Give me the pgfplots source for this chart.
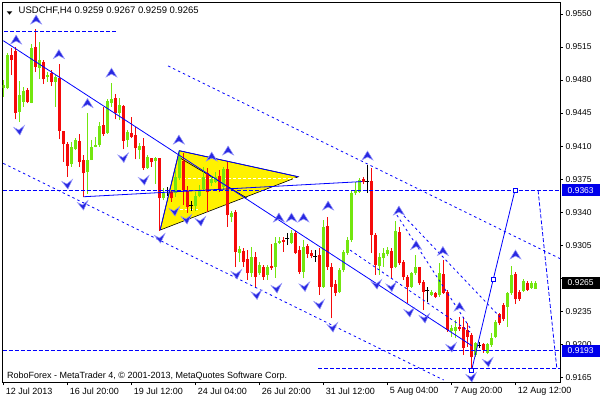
\documentclass[border=0pt]{standalone}
\usepackage{fontspec}
\setmainfont{Liberation Sans}
\usepackage{pgfplots}
\usepackage{pgfplotstable}
\pgfplotsset{compat=1.18}
\definecolor{cg}{RGB}{115,230,15}
\definecolor{cr}{RGB}{245,10,10}
\definecolor{lb}{RGB}{0,0,255}
\definecolor{arf}{RGB}{40,40,225}
\definecolor{ard}{RGB}{150,150,250}
\definecolor{boxblue}{RGB}{0,0,235}

\pgfdeclareplotmark{uparr}{%
  \pgfpathmoveto{\pgfqpoint{0pt}{5pt}}%
  \pgfpathlineto{\pgfqpoint{5.5pt}{-4pt}}%
  \pgfpathlineto{\pgfqpoint{0pt}{-1pt}}%
  \pgfpathlineto{\pgfqpoint{-5.5pt}{-4pt}}%
  \pgfpathclose
  \pgfusepathqfillstroke}
\pgfdeclareplotmark{dnarr}{%
  \pgfpathmoveto{\pgfqpoint{1pt}{-5pt}}%
  \pgfpathlineto{\pgfqpoint{-5pt}{2.5pt}}%
  \pgfpathlineto{\pgfqpoint{0pt}{0pt}}%
  \pgfpathlineto{\pgfqpoint{5.5pt}{4.5pt}}%
  \pgfpathclose
  \pgfusepathqfillstroke}

\pgfplotsset{
  wick/.style={color=#1, draw=none, mark=none, forget plot, error bars/.cd, y dir=plus, y explicit, error mark=none, error mark options={draw=none,fill=none}, error bar style={line width=1pt,draw=#1}},
  body/.style={color=#1, draw=none, mark=none, forget plot, error bars/.cd, y dir=plus, y explicit, error mark=none, error mark options={draw=none,fill=none}, error bar style={line width=3pt,draw=#1}},
}

\pgfplotstableread{
i o h l c
0 0.94712 0.94800 0.94623 0.94747
1 0.94712 0.95083 0.94701 0.95065
4 0.94464 0.94789 0.94358 0.94641
5 0.94570 0.94729 0.94517 0.94687
7 0.94560 0.95182 0.94553 0.95136
9 0.94931 0.95206 0.94807 0.95012
11 0.94828 0.94888 0.94782 0.94853
13 0.94782 0.94853 0.94517 0.94828
17 0.93906 0.94147 0.93882 0.94094
18 0.94065 0.94182 0.94058 0.94164
21 0.93829 0.94454 0.93592 0.93952
22 0.93952 0.94164 0.93952 0.94086
23 0.94094 0.94200 0.94086 0.94111
24 0.94111 0.94358 0.94094 0.94313
26 0.94235 0.94599 0.94228 0.94578
27 0.94560 0.94765 0.94517 0.94602
29 0.94447 0.94606 0.94376 0.94535
31 0.94164 0.94270 0.94086 0.94253
34 0.94058 0.94129 0.93959 0.94101
36 0.93864 0.94005 0.93857 0.93988
38 0.93945 0.93988 0.93698 0.93977
40 0.93546 0.93652 0.93528 0.93606
43 0.93603 0.93846 0.93560 0.93772
44 0.93762 0.94058 0.93740 0.93984
48 0.93465 0.93613 0.93412 0.93571
49 0.93571 0.93687 0.93560 0.93634
50 0.93645 0.93878 0.93624 0.93772
52 0.93709 0.93783 0.93677 0.93751
53 0.93722 0.93825 0.93709 0.93775
55 0.93669 0.93878 0.93634 0.93854
57 0.93348 0.93412 0.93295 0.93391
59 0.92967 0.93041 0.92871 0.93009
62 0.92755 0.93030 0.92712 0.92924
64 0.92755 0.92871 0.92734 0.92840
66 0.92734 0.92840 0.92681 0.92818
68 0.92818 0.93136 0.92702 0.93073
69 0.93076 0.93136 0.93062 0.93097
72 0.93076 0.93210 0.93062 0.93175
75 0.92769 0.93104 0.92699 0.93033
80 0.92610 0.93316 0.92596 0.93245
84 0.92557 0.92808 0.92543 0.92787
85 0.92787 0.92998 0.92765 0.92981
86 0.92964 0.93136 0.92946 0.93104
87 0.93104 0.93634 0.93083 0.93599
88 0.93599 0.93722 0.93581 0.93634
89 0.93616 0.93762 0.93603 0.93740
94 0.92829 0.92967 0.92734 0.92928
95 0.92911 0.93017 0.92822 0.92970
96 0.92956 0.93027 0.92935 0.92998
98 0.92822 0.93306 0.92805 0.93200
102 0.92610 0.92769 0.92596 0.92752
103 0.92752 0.92946 0.92734 0.92815
107 0.92522 0.92575 0.92511 0.92557
109 0.92522 0.92858 0.92504 0.92752
112 0.92143 0.92204 0.92080 0.92169
113 0.92143 0.92257 0.92063 0.92179
118 0.91886 0.92027 0.91868 0.92010
121 0.91910 0.92016 0.91896 0.92002
122 0.91992 0.92116 0.91974 0.92063
123 0.92080 0.92257 0.92063 0.92239
126 0.92398 0.92557 0.92186 0.92540
127 0.92540 0.92829 0.92522 0.92734
130 0.92567 0.92688 0.92553 0.92673
132 0.92593 0.92670 0.92585 0.92652
133 0.92590 0.92670 0.92590 0.92650
}\bull

\pgfplotstableread{
i o h l c
2 0.95065 0.95136 0.94853 0.95012
3 0.95111 0.95146 0.94383 0.94454
6 0.94694 0.94712 0.94553 0.94570
8 0.95153 0.95337 0.94888 0.94941
10 0.94994 0.95012 0.94758 0.94807
12 0.94871 0.94906 0.94736 0.94782
14 0.94818 0.94970 0.94171 0.94260
15 0.94260 0.94260 0.93935 0.94122
16 0.94122 0.94147 0.93776 0.93892
19 0.94157 0.94224 0.93882 0.93935
20 0.93952 0.94005 0.93564 0.93811
25 0.94323 0.94517 0.94207 0.94228
28 0.94606 0.94652 0.94383 0.94447
30 0.94525 0.94535 0.94065 0.94157
32 0.94235 0.94411 0.94182 0.94200
33 0.94217 0.94305 0.93959 0.94076
35 0.94101 0.94182 0.93846 0.93864
37 0.93977 0.93977 0.93882 0.93935
39 0.93977 0.93977 0.93203 0.93546
42 0.93616 0.93634 0.93510 0.93546
45 0.93942 0.94027 0.93475 0.93634
46 0.93624 0.93677 0.93391 0.93454
51 0.93815 0.93868 0.93401 0.93613
54 0.93783 0.93846 0.93613 0.93634
56 0.93854 0.93934 0.93245 0.93369
58 0.93401 0.93422 0.92818 0.92977
60 0.92988 0.93020 0.92818 0.92871
61 0.92903 0.92998 0.92681 0.92755
63 0.92924 0.92977 0.92606 0.92712
65 0.92818 0.92840 0.92681 0.92712
67 0.92832 0.93062 0.92787 0.92805
70 0.93104 0.93139 0.92981 0.93086
73 0.93175 0.93200 0.92956 0.92970
74 0.92998 0.93041 0.92744 0.92769
76 0.93041 0.93062 0.92914 0.92956
77 0.92964 0.92998 0.92914 0.92935
79 0.92946 0.93017 0.92522 0.92610
81 0.93253 0.93351 0.92787 0.92822
82 0.92822 0.92861 0.92275 0.92610
83 0.92638 0.92681 0.92511 0.92546
90 0.93751 0.93772 0.93698 0.93719
92 0.93730 0.93868 0.92967 0.93157
93 0.93157 0.93179 0.92734 0.92840
97 0.92991 0.93017 0.92699 0.92805
99 0.93192 0.93245 0.92840 0.92858
100 0.92875 0.92893 0.92681 0.92709
101 0.92709 0.92734 0.92434 0.92610
104 0.92815 0.92822 0.92628 0.92646
105 0.92656 0.92681 0.92363 0.92557
108 0.92540 0.92553 0.92490 0.92504
110 0.92744 0.92893 0.92532 0.92546
111 0.92550 0.92575 0.92133 0.92151
114 0.92186 0.92292 0.92140 0.92158
115 0.92179 0.92292 0.91886 0.91957
116 0.92151 0.92222 0.91974 0.92080
117 0.92098 0.92116 0.91716 0.91868
120 0.92002 0.92016 0.91910 0.91939
124 0.92320 0.92334 0.92204 0.92222
125 0.92416 0.92434 0.92246 0.92264
128 0.92744 0.92769 0.92426 0.92476
129 0.92557 0.92575 0.92458 0.92476
131 0.92652 0.92670 0.92564 0.92575
}\bear

\pgfplotstableread{
i o h l c
41 0.93634 0.93666 0.93571 0.93630
47 0.93475 0.93518 0.93412 0.93470
71 0.93123 0.93175 0.93051 0.93118
78 0.92928 0.92998 0.92875 0.92924
91 0.93730 0.93899 0.93603 0.93727
106 0.92567 0.92603 0.92451 0.92564
119 0.91992 0.92027 0.91957 0.91989
}\doji

\begin{document}
\begin{tikzpicture}
\begin{axis}[
  at={(0pt,0pt)}, anchor=south west,
  scale only axis, width=557.3pt, height=380pt,
  xmin=-0.15, xmax=139.175, ymin=0.91600, ymax=0.95627,
  clip mode=individual,
  axis line style={black, line width=0.8pt},
  tick align=outside, major tick length=3pt,
  tick style={black, line width=0.6pt},
  ytick pos=right, yticklabel pos=right,
  xtick pos=bottom,
  ytick={0.9165,0.9200,0.9235,0.9270,0.9305,0.9340,0.9375,0.9410,0.9445,0.9480,0.9515,0.9550},
  yticklabels={0.9165,0.9200,0.9235,,0.9305,0.9340,0.9375,0.9410,0.9445,0.9480,0.9515,0.9550},
  yticklabel style={font=\fontsize{8.5}{10}\selectfont, anchor=west, xshift=-1pt},
  xtick={0,16,32,48,64,80,96,112,128},
  xticklabels={12 Jul 2013,16 Jul 20:00,19 Jul 12:00,24 Jul 04:00,26 Jul 20:00,31 Jul 12:00,5 Aug 04:00,7 Aug 20:00,12 Aug 12:00},
  xticklabel style={font=\fontsize{9}{10}\selectfont, anchor=north west, xshift=-1pt, yshift=1pt},
]
% yellow triangle
\addplot[fill=yellow, draw=black, line width=0.6pt, forget plot] coordinates {(39.2,0.93210) (44.0,0.94051) (73.75,0.93775) (39.2,0.93210)};
\addplot[black, line width=0.6pt, forget plot] coordinates {(44.2,0.93974) (60.9,0.93550)};
\addplot[white, line width=0.8pt, dash pattern=on 3pt off 2pt, forget plot] coordinates {(44.9,0.93758) (73.4,0.93758)};
\addplot[white, line width=0.8pt, dash pattern=on 3pt off 2pt, forget plot] coordinates {(44.2,0.93433) (48.7,0.93433)};

% candles
\addplot[wick=cg] table[x=i, y=l, y error plus expr=\thisrow{h}-\thisrow{l}] {\bull};
\addplot[body=cg] table[x=i, y=o, y error plus expr=\thisrow{c}-\thisrow{o}] {\bull};
\addplot[wick=cr] table[x=i, y=l, y error plus expr=\thisrow{h}-\thisrow{l}] {\bear};
\addplot[body=cr] table[x=i, y=c, y error plus expr=\thisrow{o}-\thisrow{c}] {\bear};
\addplot[wick=black] table[x=i, y=l, y error plus expr=\thisrow{h}-\thisrow{l}] {\doji};
\addplot[only marks, mark=-, mark size=2pt, black, mark options={line width=1pt}, forget plot] table[x=i, y=o] {\doji};

% trend lines
\addplot[lb, line width=0.8pt, dash pattern=on 4pt off 2pt, forget plot] coordinates {(0.2,0.95312) (28.2,0.95312)};
\addplot[lb, line width=0.8pt, dash pattern=on 4pt off 2pt, forget plot] coordinates {(-0.15,0.9363) (139.175,0.9363)};
\addplot[lb, line width=0.8pt, dash pattern=on 4pt off 2pt, forget plot] coordinates {(-0.15,0.9193) (139.175,0.9193)};
\addplot[lb, line width=0.8pt, dash pattern=on 4pt off 2pt, forget plot] coordinates {(78.7,0.91740) (139.175,0.91740)};
\addplot[lb, line width=0.8pt, forget plot] coordinates {(0,0.95217) (117.1,0.91986)};
\addplot[lb, line width=0.8pt, dash pattern=on 2.5pt off 3pt, forget plot] coordinates {(41.2,0.94949) (139.4,0.92903)};
\addplot[lb, line width=0.8pt, dash pattern=on 2.5pt off 3pt, forget plot] coordinates {(0,0.93917) (110.1,0.91621)};
\addplot[lb, line width=0.8pt, forget plot] coordinates {(20.0,0.93563) (89.7,0.93724)};
\addplot[lb, line width=0.8pt, forget plot] coordinates {(39.2,0.93210) (44.0,0.94051) (73.75,0.93775)};
\addplot[lb, line width=0.8pt, dash pattern=on 2.5pt off 3pt, forget plot] coordinates {(98.4,0.93369) (116.7,0.92172)};
\addplot[lb, line width=0.8pt, dash pattern=on 2.5pt off 3pt, forget plot] coordinates {(99.2,0.93402) (124.2,0.92288)};
\addplot[lb, line width=0.8pt, dash pattern=on 2.5pt off 3pt, forget plot] coordinates {(86.7,0.92998) (116.7,0.92129)};
\addplot[lb, line width=0.8pt, dash pattern=on 4pt off 2pt, forget plot] coordinates {(133.7,0.93630) (138.4,0.91737)};
\addplot[lb, line width=0.8pt, mark=square*, mark size=2pt, mark options={fill=white, draw=lb, solid}, forget plot] coordinates {(117.1,0.91727) (122.5,0.92691) (127.9,0.93630)};

% arrows
\addplot[only marks, mark=uparr, mark options={fill=arf, draw=ard, line width=0.5pt}, forget plot] coordinates {
(8.2,0.95436) (3.2,0.95224) (13.9,0.95070) (27.05,0.94874) (21.05,0.94551)
(43.9,0.94164) (52.1,0.93984) (56.2,0.94048) (68.9,0.93338) (72.05,0.93338)
(75.05,0.93338) (81.2,0.93465) (91.05,0.93995) (98.9,0.93412) (103.2,0.93046)
(109.9,0.92983) (114.05,0.92394) (128.05,0.92946)};
\addplot[only marks, mark=dnarr, mark options={fill=arf, draw=ard, line width=0.5pt}, forget plot] coordinates {
(3.9,0.94270) (15.9,0.93698) (19.8,0.93475) (29.9,0.93979) (35.05,0.93740)
(39.05,0.93126) (42.7,0.93412) (45.7,0.93327) (49.2,0.93306) (58.2,0.92744)
(63.2,0.92527) (68.2,0.92596) (75.2,0.92612) (78.9,0.92426) (82.2,0.92182)
(93.2,0.92638) (96.9,0.92612) (101.4,0.92341) (105.2,0.92278) (111.9,0.91970)
(116.9,0.91653) (121.05,0.91812)};

% price boxes
\node[fill=boxblue, text=white, font=\fontsize{8.5}{10}\selectfont, inner sep=0pt, minimum width=38pt, minimum height=12pt, anchor=west] at (axis cs:139.175,0.9363) [xshift=1.5pt] {0.9363};
\node[fill=black, text=white, font=\fontsize{8.5}{10}\selectfont, inner sep=0pt, minimum width=38pt, minimum height=12pt, anchor=west] at (axis cs:139.175,0.9265) [xshift=1.5pt] {0.9265};
\node[fill=boxblue, text=white, font=\fontsize{8.5}{10}\selectfont, inner sep=0pt, minimum width=38pt, minimum height=12pt, anchor=west] at (axis cs:139.175,0.9193) [xshift=1.5pt] {0.9193};
\end{axis}
\fill[black] (4pt,370.7pt) -- (9.6pt,370.7pt) -- (6.8pt,367.4pt) -- cycle;
\node[anchor=base west, inner sep=0pt, font=\fontsize{9.5}{11}\selectfont] at (15.8pt,368pt) {USDCHF,H4 0.9259 0.9267 0.9259 0.9265};
\node[anchor=base west, inner sep=0pt, font=\fontsize{9}{11}\selectfont] at (4.3pt,3.5pt) {RoboForex - MetaTrader 4, © 2001-2013, MetaQuotes Software Corp.};
\pgfresetboundingbox
\path[use as bounding box] (-2.7pt,-18pt) rectangle (597.3pt,382pt);
\end{tikzpicture}
\end{document}
